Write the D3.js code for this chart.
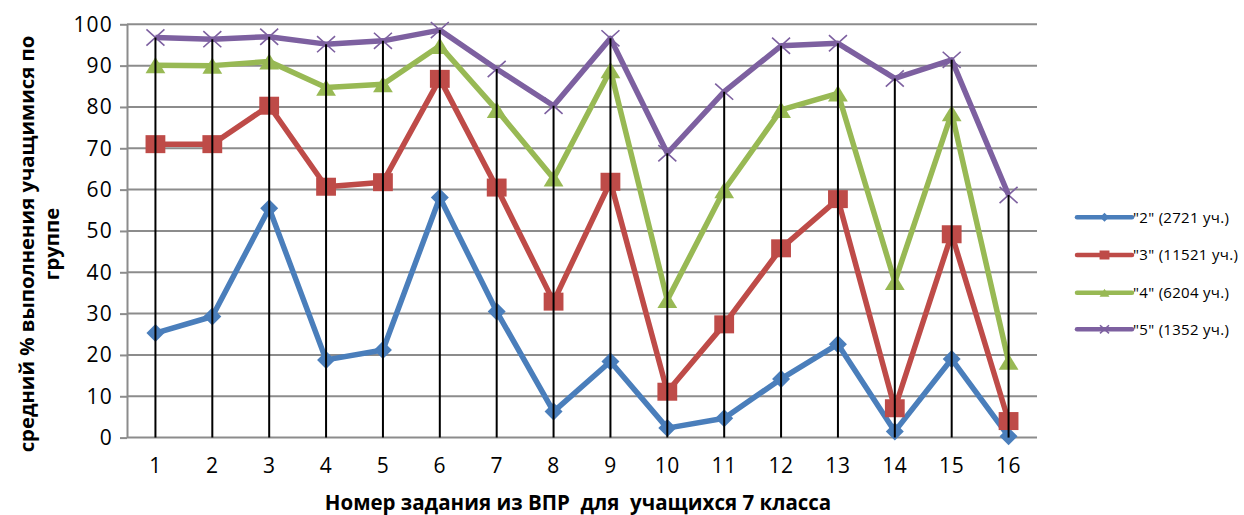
<!DOCTYPE html>
<html>
<head>
<meta charset="utf-8">
<script src="https://cdn.jsdelivr.net/npm/d3@7/dist/d3.min.js"></script>
<style>
  html, body { margin: 0; padding: 0; background: #ffffff; }
  svg { display: block; }
  text { font-family: "Open Sans", "Noto Sans", sans-serif; fill: #000; white-space: pre; }
</style>
</head>
<body>
<svg id="chart" width="1244" height="515"></svg>
<script>
// Task numbers of the VPR test (7th grade)
const tasks = ["1","2","3","4","5","6","7","8","9","10","11","12","13","14","15","16"];

// Average completion percentage per task, by grade group
const grade2 = [25.3, 29.3, 55.5, 18.8, 21.2, 58.1, 30.5, 6.3, 18.4, 2.3, 4.7, 14.2, 22.6, 1.5, 19.0, 0.3];
const grade3 = [71.0, 71.0, 80.3, 60.7, 61.8, 86.8, 60.5, 32.9, 61.9, 11.1, 27.4, 45.8, 57.7, 7.1, 49.2, 4.0];
const grade4 = [90.1, 90.0, 91.0, 84.7, 85.5, 94.8, 79.3, 62.7, 88.9, 33.3, 59.9, 79.3, 83.3, 37.7, 78.5, 18.4];
const grade5 = [96.8, 96.4, 97.0, 95.2, 96.0, 98.6, 89.2, 80.3, 96.6, 68.8, 83.7, 94.8, 95.4, 86.9, 91.4, 58.7];

const seriesNames = ['"2" (2721 уч.)', '"3" (11521 уч.)', '"4" (6204 уч.)', '"5" (1352 уч.)'];
const yTicks = [0, 10, 20, 30, 40, 50, 60, 70, 80, 90, 100];

const yTitleLines = ["средний % выполнения учащимися по", "группе"];
const xTitle = "Номер задания из ВПР  для  учащихся 7 класса";

const series = [
  { name: seriesNames[0], values: grade2, color: "#4a7ebb", marker: "diamond" },
  { name: seriesNames[1], values: grade3, color: "#be4b48", marker: "square" },
  { name: seriesNames[2], values: grade4, color: "#98b954", marker: "triangle" },
  { name: seriesNames[3], values: grade5, color: "#7d60a0", marker: "cross" }
];

const svg = d3.select("#chart");
svg.append("rect").attr("width", 1244).attr("height", 515).attr("fill", "#fff");

const plot = { left: 127, right: 1037, top: 24.3, bottom: 437.6 };

const x = d3.scaleBand().domain(tasks).range([plot.left, plot.right]);
const y = d3.scaleLinear().domain([0, 100]).range([plot.bottom, plot.top]);
const cx = d => x(d) + x.bandwidth() / 2;

// Horizontal gridlines
svg.append("g")
  .selectAll("line")
  .data(yTicks)
  .join("line")
  .attr("x1", plot.left).attr("x2", plot.right)
  .attr("y1", d => y(d)).attr("y2", d => y(d))
  .attr("stroke", "#8c8c8c").attr("stroke-width", 2);

// Value axis with outside tick marks
const yAxis = svg.append("g")
  .attr("transform", `translate(${plot.left},0)`)
  .call(d3.axisLeft(y).tickValues(yTicks).tickSize(7).tickSizeOuter(0).tickPadding(7));
yAxis.select(".domain").attr("stroke", "#8c8c8c").attr("stroke-width", 2);
yAxis.selectAll(".tick line").attr("stroke", "#8c8c8c").attr("stroke-width", 2);
yAxis.selectAll(".tick text")
  .attr("font-family", '"Open Sans", sans-serif')
  .attr("font-size", 21)
  .attr("letter-spacing", 1.2)
  .attr("fill", "#000");

// Category axis labels
const xAxis = svg.append("g")
  .attr("transform", `translate(0,${plot.bottom})`)
  .call(d3.axisBottom(x).tickSize(0).tickPadding(20));
xAxis.select(".domain").remove();
xAxis.selectAll(".tick text")
  .attr("font-family", '"Open Sans", sans-serif')
  .attr("font-size", 21)
  .attr("letter-spacing", 0.6)
  .attr("fill", "#000");

// Marker shapes
function drawMarker(g, type, color, s) {
  if (type === "diamond") {
    g.append("path")
      .attr("d", `M0,${-s}L${s},0L0,${s}L${-s},0Z`)
      .attr("fill", color);
  } else if (type === "square") {
    g.append("rect")
      .attr("x", -s * 1.1).attr("y", -s)
      .attr("width", s * 2.2).attr("height", s * 2)
      .attr("fill", color);
  } else if (type === "triangle") {
    g.append("path")
      .attr("d", `M0,${-s * 0.9}L${s * 1.1},${s * 0.9}L${-s * 1.1},${s * 0.9}Z`)
      .attr("fill", color);
  } else if (type === "cross") {
    g.append("path")
      .attr("d", `M${-s},${-s * 0.9}L${s},${s * 0.9}M${-s},${s * 0.9}L${s},${-s * 0.9}`)
      .attr("stroke", color).attr("stroke-width", 1.6).attr("fill", "none");
  }
}

const line = d3.line()
  .x((d, i) => cx(tasks[i]))
  .y(d => y(d));

// Series lines and markers
series.forEach(s => {
  const g = svg.append("g");
  g.append("path")
    .datum(s.values)
    .attr("d", line)
    .attr("fill", "none")
    .attr("stroke", s.color)
    .attr("stroke-width", 5.5)
    .attr("stroke-linejoin", "round");
  s.values.forEach((v, i) => {
    const m = g.append("g").attr("transform", `translate(${cx(tasks[i])},${y(v)})`);
    drawMarker(m, s.marker, s.color, 9);
  });
});

// Drop lines from the highest point of each task down to the axis
svg.append("g")
  .selectAll("line")
  .data(tasks)
  .join("line")
  .attr("x1", d => cx(d)).attr("x2", d => cx(d))
  .attr("y1", (d, i) => y(Math.max(grade2[i], grade3[i], grade4[i], grade5[i])))
  .attr("y2", plot.bottom)
  .attr("stroke", "#000").attr("stroke-width", 2);

// Legend
const legend = svg.append("g");
const legendY = [217.3, 255, 292.7, 329.3];
series.forEach((s, i) => {
  const g = legend.append("g").attr("transform", `translate(1077,${legendY[i]})`);
  g.append("line")
    .attr("x1", 0).attr("x2", 55)
    .attr("stroke", s.color).attr("stroke-width", 4.5).attr("stroke-linecap", "round");
  const m = g.append("g").attr("transform", "translate(27.5,0)");
  drawMarker(m, s.marker, s.color, 4.5);
  g.append("text")
    .attr("x", 56).attr("y", 0).attr("dy", "0.36em")
    .attr("font-size", 15)
    .attr("letter-spacing", 0.3)
    .text(s.name);
});

// Axis titles
svg.append("text")
  .attr("x", (plot.left + plot.right) / 2 - 4)
  .attr("y", 510)
  .attr("text-anchor", "middle")
  .attr("font-weight", "bold")
  .attr("font-size", 20.5)
  .text(xTitle);

const yTitle = svg.append("text")
  .attr("transform", "translate(0,244) rotate(-90)")
  .attr("text-anchor", "middle")
  .attr("font-weight", "bold")
  .attr("font-size", 20.3);
yTitleLines.forEach((t, i) => {
  yTitle.append("tspan")
    .attr("x", 0)
    .attr("y", 34 + i * 25)
    .text(t);
});
</script>
</body>
</html>
